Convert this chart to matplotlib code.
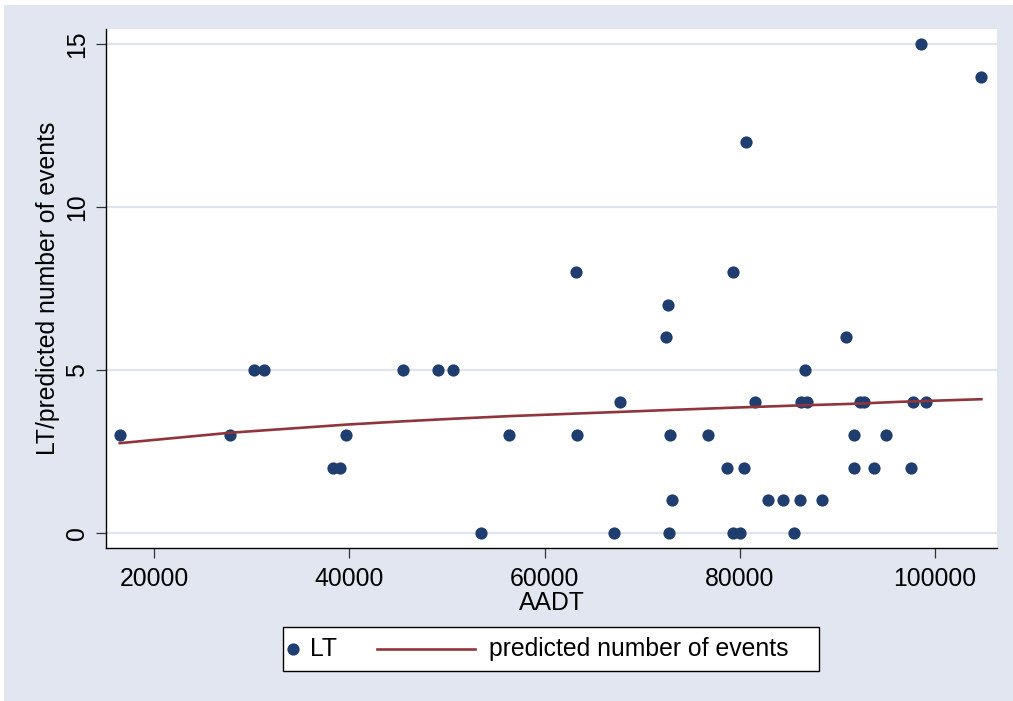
import matplotlib
matplotlib.use("Agg")
import matplotlib.pyplot as plt
from matplotlib.patches import Rectangle
from matplotlib.lines import Line2D

# ---- data ----
aadt = [16500, 27800, 39700, 56400, 63300, 72900, 76700, 91700, 95000,
        38300, 39050, 78700, 80450, 91750, 93700, 97500,
        73100, 82900, 84400, 86200, 88400,
        53500, 67100, 72750, 79300, 80050, 85600,
        67700, 81600, 86250, 86850, 92300, 92700, 97700, 99100,
        30250, 31250, 45500, 49050, 50650, 86700,
        72450, 90850,
        72650,
        63250, 79350,
        80650, 98550, 104750]
lt = [3, 3, 3, 3, 3, 3, 3, 3, 3,
      2, 2, 2, 2, 2, 2, 2,
      1, 1, 1, 1, 1,
      0, 0, 0, 0, 0, 0,
      4, 4, 4, 4, 4, 4, 4, 4,
      5, 5, 5, 5, 5, 5,
      6, 6,
      7,
      8, 8,
      12, 15, 14]

pred_aadt = [16500, 27800, 38300, 39700, 45500, 50650, 56400, 63300,
             67700, 72900, 79300, 86200, 91700, 96400, 104750]
pred_val = [2.75, 3.07, 3.29, 3.32, 3.42, 3.50, 3.58, 3.66,
            3.71, 3.77, 3.84, 3.91, 3.96, 4.02, 4.10]

xticks = [20000, 40000, 60000, 80000, 100000]
yticks = [0, 5, 10, 15]

navy = "#1f3d6e"
maroon = "#90353b"
bg = "#e1e6f1"
grid = "#dfe4ee"

plt.rcParams['font.family'] = ['Liberation Sans', 'DejaVu Sans']
FS = 17.8

fig = plt.figure(figsize=(10.13, 7.01), dpi=100)
fig.patch.set_facecolor("white")
fig.patches.append(Rectangle((4 / 1013, 0), 1 - 4 / 1013, 1 - 5 / 701,
                             transform=fig.transFigure, facecolor=bg,
                             edgecolor="none", zorder=-10))

ax = fig.add_axes([106 / 1013, 1 - 548 / 701, (997 - 106) / 1013, (548 - 29) / 701])
ax.set_facecolor("white")
ax.set_xlim(15083, 106350)
ax.set_ylim(-0.47, 15.47)

for y in yticks:
    ax.axhline(y, color=grid, lw=1.6, zorder=1)

ax.plot(aadt, lt, linestyle="none", marker="o", markersize=8.8,
        markerfacecolor=navy, markeredgecolor=navy, markeredgewidth=0, zorder=3)
ax.plot(pred_aadt, pred_val, color=maroon, lw=1.9, zorder=4)

for s in ["top", "right"]:
    ax.spines[s].set_visible(False)
for s in ["left", "bottom"]:
    ax.spines[s].set_color("black")
    ax.spines[s].set_linewidth(1.0)

ax.set_xticks(xticks)
ax.set_xticklabels([str(v) for v in xticks])
ax.set_yticks(yticks)
ax.set_yticklabels([str(v) for v in yticks])
ax.tick_params(axis="both", direction="out", length=7.5, width=0.9,
               color="#333333", labelsize=FS, labelcolor="black")
ax.tick_params(axis="x", pad=6)
ax.tick_params(axis="y", pad=5)
for lab in ax.get_yticklabels():
    lab.set_rotation(90)
    lab.set_va("center")

ax.set_xlabel("AADT", fontsize=FS, labelpad=0)
ax.set_ylabel("LT/predicted number of events", fontsize=FS, labelpad=3)

# ---- legend box ----
fig.patches.append(Rectangle((283 / 1013, 1 - 671 / 701), (819 - 283) / 1013, 44 / 701,
                             transform=fig.transFigure, facecolor="white",
                             edgecolor="black", lw=1.0, zorder=5))
ly = 1 - 649 / 701
fig.lines.append(Line2D([293 / 1013], [ly], transform=fig.transFigure, marker="o",
                        markersize=8.8, markerfacecolor=navy, markeredgewidth=0,
                        linestyle="none", zorder=6))
fig.text(310 / 1013, ly, "LT", fontsize=FS, va="center", ha="left", zorder=6)
fig.lines.append(Line2D([377 / 1013, 475 / 1013], [ly, ly], transform=fig.transFigure,
                        color=maroon, lw=1.9, zorder=6))
fig.text(489 / 1013, ly, "predicted number of events", fontsize=FS,
         va="center", ha="left", zorder=6)

fig.savefig("out.png", dpi=100, facecolor=fig.get_facecolor())
